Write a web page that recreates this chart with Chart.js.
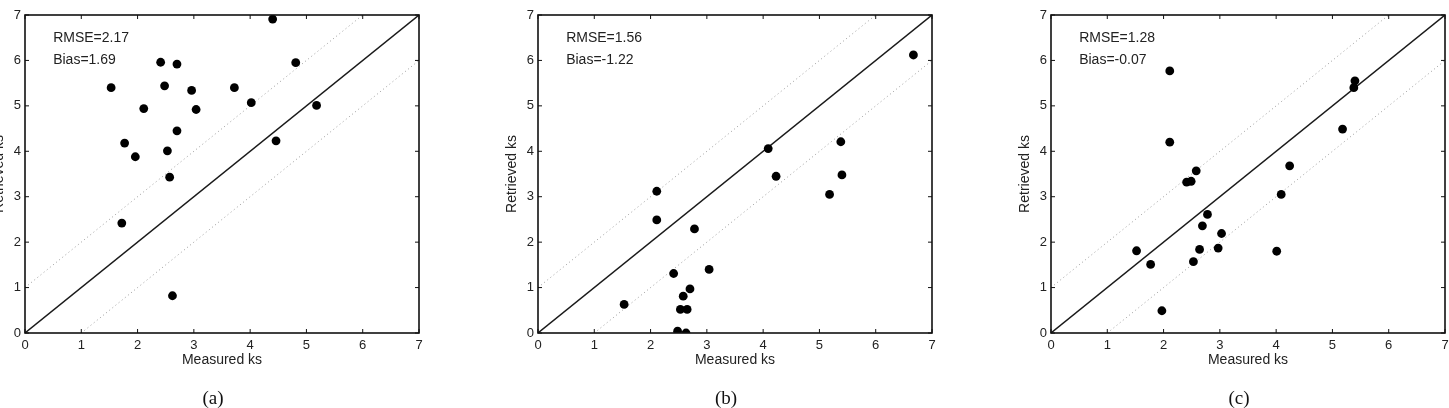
<!DOCTYPE html>
<html><head><meta charset="utf-8">
<script src="https://cdn.jsdelivr.net/npm/chart.js@4.4.1/dist/chart.umd.min.js"></script>
<style>
html,body{margin:0;padding:0;background:#fff;overflow:hidden;width:1449px;height:408px;position:relative}
canvas{position:absolute;top:0}
</style></head>
<body>
<canvas id="ca" width="480" height="408" style="left:-30px"></canvas>
<canvas id="cb" width="480" height="408" style="left:483px"></canvas>
<canvas id="cc" width="480" height="408" style="left:996px"></canvas>
<script>
// ---- data ----
const axisTicks = [0, 1, 2, 3, 4, 5, 6, 7];
const panelLabels = ['(a)', '(b)', '(c)'];
const rmseValues = ['2.17', '1.56', '1.28'];
const biasValues = ['1.69', '-1.22', '-0.07'];
const errorBand = 1;

const measuredA  = [4.40, 4.81, 2.41, 2.70, 1.53, 2.48, 2.96, 3.72, 4.02, 2.11, 3.04, 5.18, 2.70, 1.77, 1.96, 2.53, 4.46, 2.57, 1.72, 2.62];
const retrievedA = [6.91, 5.95, 5.96, 5.92, 5.40, 5.44, 5.34, 5.40, 5.07, 4.94, 4.92, 5.01, 4.45, 4.18, 3.88, 4.01, 4.23, 3.43, 2.42, 0.82];

const measuredB  = [6.67, 4.09, 5.38, 4.23, 5.40, 5.18, 2.11, 2.11, 2.78, 2.41, 3.04, 2.70, 2.58, 2.53, 2.65, 1.53, 2.48, 2.63];
const retrievedB = [6.12, 4.06, 4.21, 3.45, 3.48, 3.05, 3.12, 2.49, 2.29, 1.31, 1.40, 0.97, 0.81, 0.52, 0.52, 0.63, 0.04, 0.00];

const measuredC  = [2.11, 5.40, 5.38, 5.18, 2.11, 4.24, 2.58, 2.41, 2.49, 4.09, 2.78, 2.69, 3.03, 2.64, 2.97, 4.01, 1.52, 1.77, 2.53, 1.97];
const retrievedC = [5.77, 5.55, 5.40, 4.49, 4.20, 3.68, 3.57, 3.32, 3.34, 3.05, 2.61, 2.36, 2.19, 1.84, 1.87, 1.80, 1.81, 1.51, 1.57, 0.49];

const measuredSets = [measuredA, measuredB, measuredC];
const retrievedSets = [retrievedA, retrievedB, retrievedC];

// ---- drawing ----
const SANS = '"Liberation Sans", Arial, Helvetica, sans-serif';
const SERIF = '"Liberation Serif", "Times New Roman", serif';
const tMin = axisTicks[0], tMax = axisTicks[axisTicks.length - 1];

const framePlugin = {
  id: 'frame',
  afterDraw(chart) {
    const {ctx, chartArea: a, scales: {x, y}} = chart;
    const i = chart.options.plugins.frame.index;
    ctx.save();
    // inward ticks
    ctx.strokeStyle = '#111';
    ctx.lineWidth = 1;
    const tl = 4;
    axisTicks.forEach(v => {
      const px = x.getPixelForValue(v), py = y.getPixelForValue(v);
      ctx.beginPath();
      ctx.moveTo(px, a.bottom); ctx.lineTo(px, a.bottom - tl);
      ctx.moveTo(px, a.top); ctx.lineTo(px, a.top + tl);
      ctx.moveTo(a.left, py); ctx.lineTo(a.left + tl, py);
      ctx.moveTo(a.right, py); ctx.lineTo(a.right - tl, py);
      ctx.stroke();
    });
    // box
    ctx.lineWidth = 1.6;
    ctx.strokeRect(a.left, a.top, a.right - a.left, a.bottom - a.top);
    // stats text
    ctx.fillStyle = '#222';
    ctx.font = '14px ' + SANS;
    ctx.textBaseline = 'middle';
    ctx.textAlign = 'left';
    ctx.fillText('RMSE=' + rmseValues[i], x.getPixelForValue(0.5), y.getPixelForValue(6.5));
    ctx.fillText('Bias=' + biasValues[i], x.getPixelForValue(0.5), y.getPixelForValue(6.0));
    // caption
    ctx.fillStyle = '#111';
    ctx.font = '19px ' + SERIF;
    ctx.textAlign = 'center';
    ctx.textBaseline = 'alphabetic';
    ctx.fillText(panelLabels[i], (a.left + a.right) / 2 - 9, 404);
    ctx.restore();
  }
};

function makeChart(id, i) {
  const pts = measuredSets[i].map((m, k) => ({x: m, y: retrievedSets[i][k]}));
  const lineStyle = (data, dotted) => ({
    data, showLine: true, pointRadius: 0, fill: false,
    borderColor: dotted ? '#9a9a9a' : '#1a1a1a',
    borderWidth: dotted ? 1 : 1.4,
    borderDash: dotted ? [1, 3] : [],
    tension: 0
  });
  new Chart(document.getElementById(id), {
    type: 'scatter',
    data: {
      datasets: [
        {data: pts, pointRadius: 4.4, pointBackgroundColor: '#000', pointBorderColor: '#000', pointBorderWidth: 0, showLine: false},
        lineStyle([{x: tMin, y: tMin}, {x: tMax, y: tMax}], false),
        lineStyle([{x: tMin, y: tMin + errorBand}, {x: tMax - errorBand, y: tMax}], true),
        lineStyle([{x: tMin + errorBand, y: tMin}, {x: tMax, y: tMax - errorBand}], true)
      ]
    },
    options: {
      responsive: false,
      animation: false,
      layout: {padding: {top: 15, right: 31, left: 0, bottom: 0}},
      plugins: {legend: {display: false}, tooltip: {enabled: false}, frame: {index: i}},
      scales: {
        x: {
          type: 'linear', min: tMin, max: tMax,
          grid: {display: false, drawTicks: false}, border: {display: false},
          ticks: {stepSize: 1, padding: 5, color: '#222', font: {family: SANS, size: 13}},
          title: {display: true, text: 'Measured ks', color: '#222', font: {family: SANS, size: 14}, padding: {top: 0, bottom: 39.6}},
          afterFit(s) { s.height = 75; }
        },
        y: {
          type: 'linear', min: tMin, max: tMax,
          grid: {display: false, drawTicks: false}, border: {display: false},
          ticks: {stepSize: 1, padding: 4, color: '#222', font: {family: SANS, size: 13}},
          title: {display: true, text: 'Retrieved ks', color: '#222', font: {family: SANS, size: 14}, padding: {top: 21, bottom: 0}},
          afterFit(s) { s.width = 55; }
        }
      }
    },
    plugins: [framePlugin]
  });
}
makeChart('ca', 0);
makeChart('cb', 1);
makeChart('cc', 2);
</script>
</body></html>
